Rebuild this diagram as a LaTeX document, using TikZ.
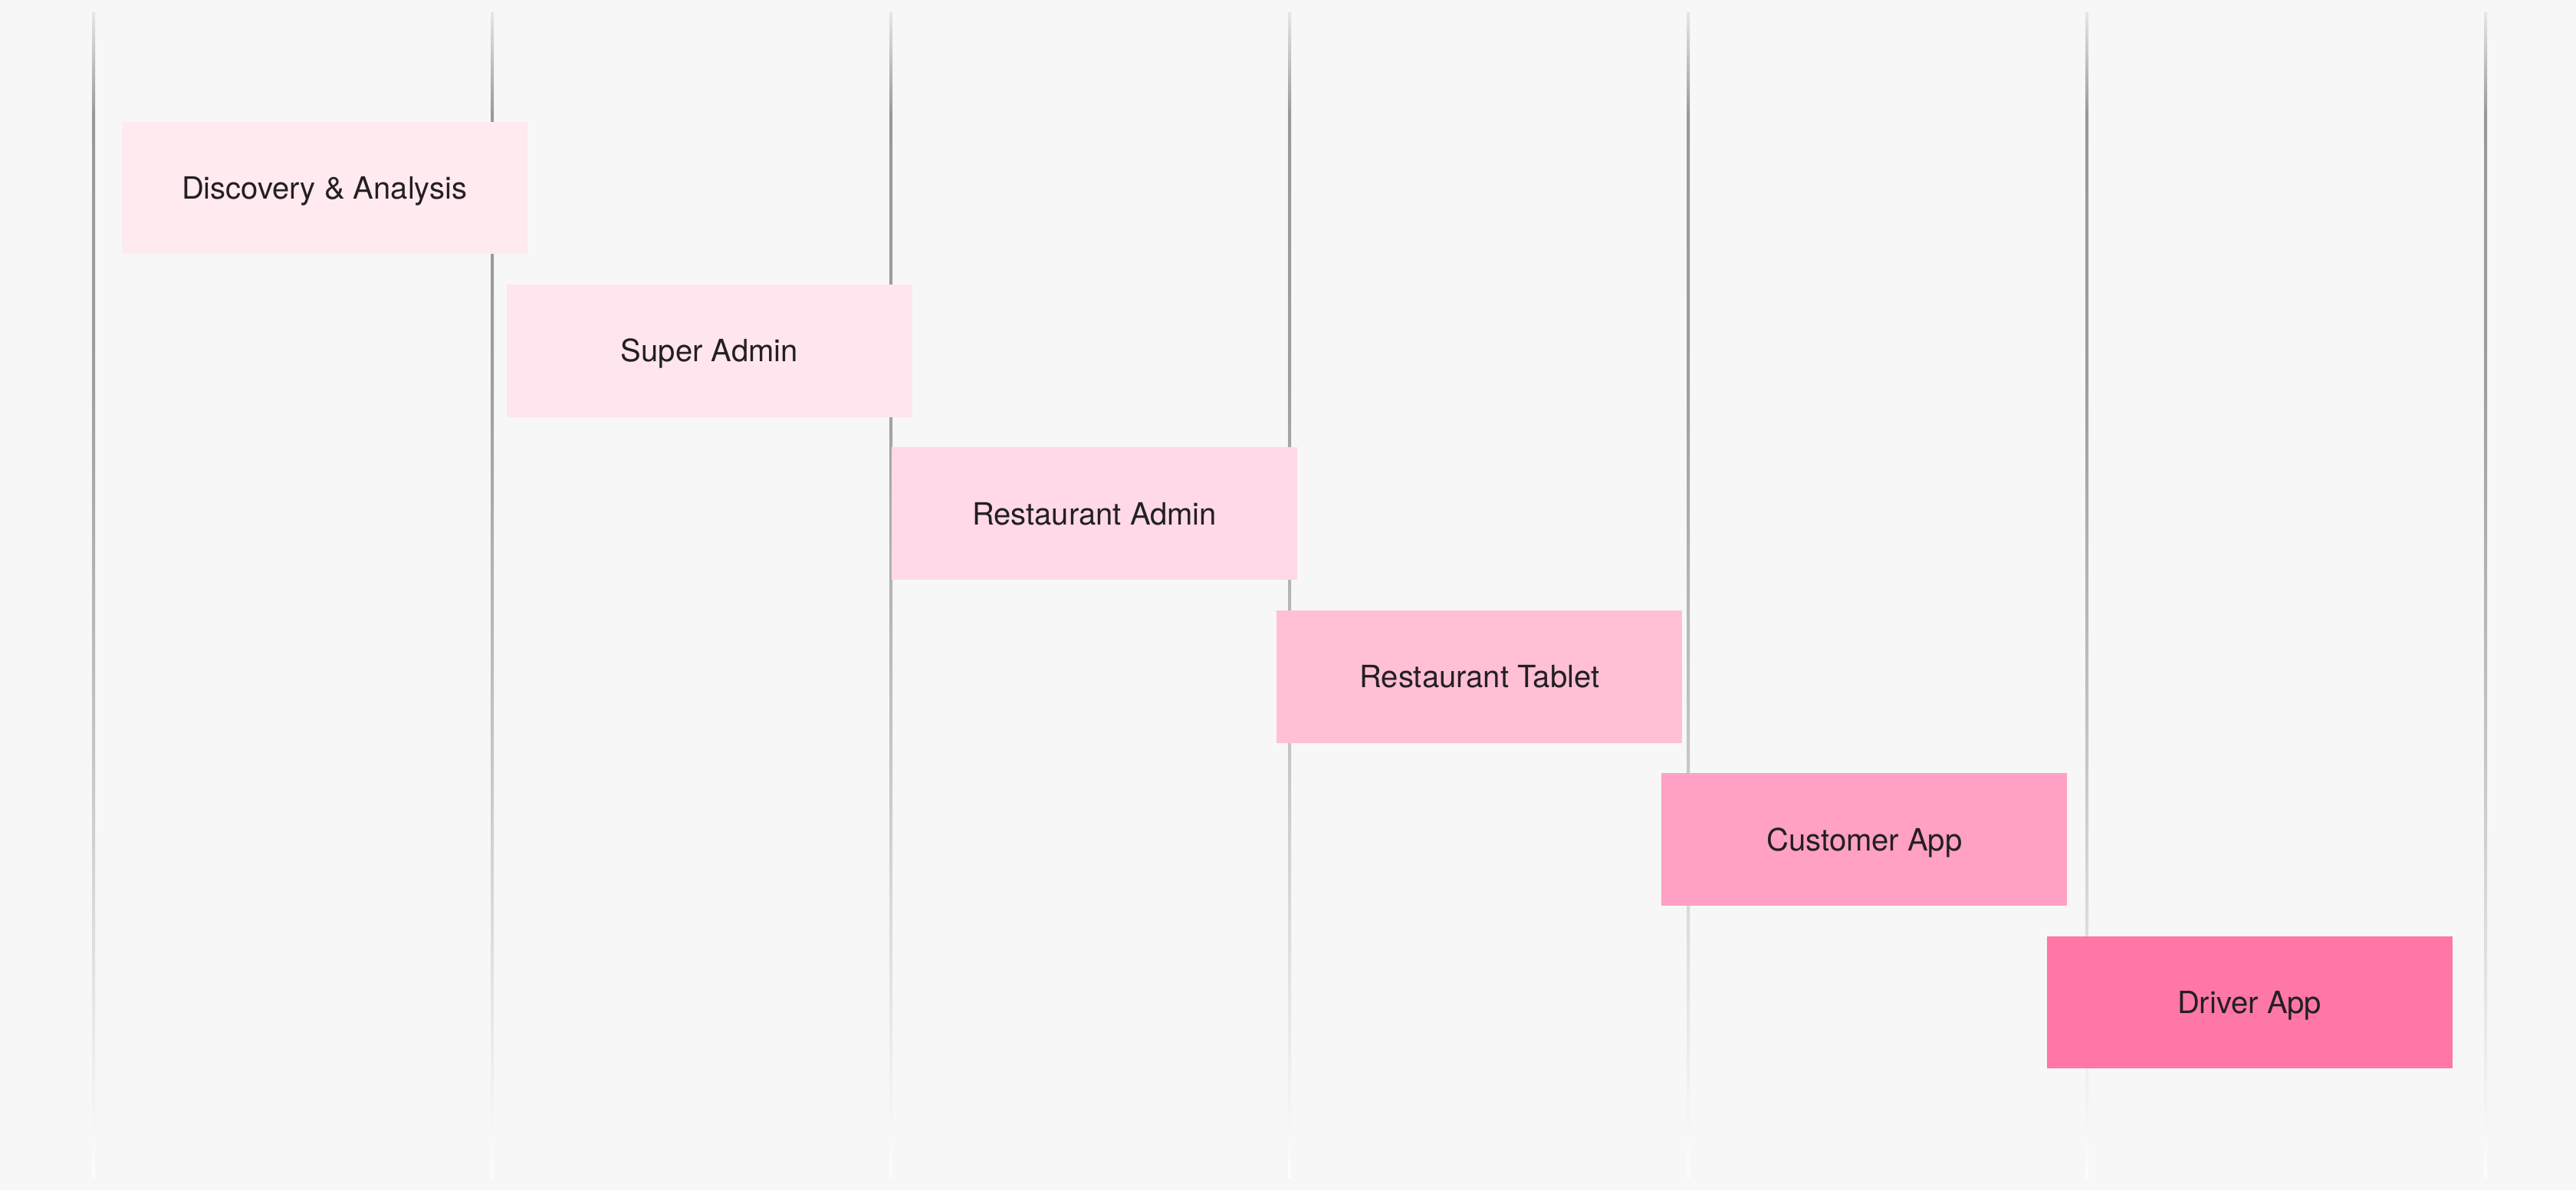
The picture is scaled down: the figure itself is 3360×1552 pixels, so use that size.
\documentclass[tikz,border=0pt]{standalone}
\usepackage{fontspec}
\setmainfont{TeX Gyre Heros}
\usetikzlibrary{positioning}
\definecolor{bg}{HTML}{F7F7F7}
\definecolor{ink}{HTML}{231F22}
\definecolor{phaseA}{HTML}{FFEAF0}
\definecolor{phaseB}{HTML}{FFE5EE}
\definecolor{phaseC}{HTML}{FFD9E7}
\definecolor{phaseD}{HTML}{FFC0D6}
\definecolor{phaseE}{HTML}{FFA0C4}
\definecolor{phaseF}{HTML}{FF77A6}
% lane line: light at the top, dark in the upper part, fading out downwards
\pgfdeclareverticalshading{laneline}{100bp}{%
  color(0bp)=(bg); color(25bp)=(bg!80!black!4); color(42.6bp)=(black!22);
  color(59.1bp)=(black!38); color(70.6bp)=(black!40); color(75bp)=(black!10);
  color(100bp)=(black!10)}
\tikzset{phase/.style={minimum width=132.25pt, minimum height=43.2pt, inner sep=0pt,
  outer sep=0pt, text height=7.2pt, text depth=0pt, text=ink,
  font=\fontsize{10}{12}\selectfont}}

\begin{document}
\begin{tikzpicture}[x=0.25pt,y=-0.25pt]
\fill[bg] (0,0) rectangle (3360,1552);
\foreach \k in {0,...,6}
  \shade[shading=laneline] (120+520*\k,16) rectangle +(4,1519);
\node[phase, fill=phaseA, anchor=north west] (disc) at (158.6,158.6) {Discovery \& Analysis};
\node[phase, fill=phaseB, below right=9.9pt and -6.7pt of disc] (super) {Super Admin};
\node[phase, fill=phaseC, below right=9.9pt and -6.7pt of super] (radmin) {Restaurant Admin};
\node[phase, fill=phaseD, below right=9.9pt and -6.7pt of radmin] (rtablet) {Restaurant Tablet};
\node[phase, fill=phaseE, below right=9.9pt and -6.7pt of rtablet] (cust) {Customer App};
\node[phase, fill=phaseF, below right=9.9pt and -6.7pt of cust] (driver) {Driver App};
\end{tikzpicture}
\end{document}
